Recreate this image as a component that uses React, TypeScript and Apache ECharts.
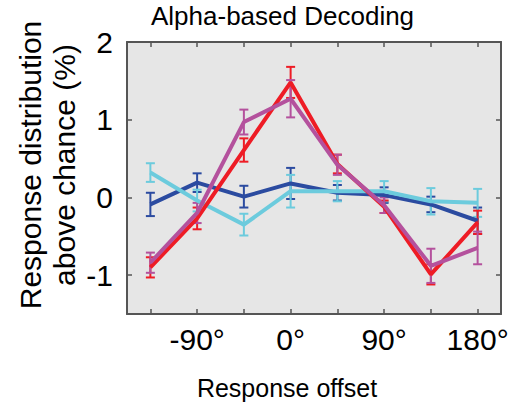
import React, { useEffect, useRef } from "react";
import * as echarts from "echarts";

const categories = ["-135°", "-90°", "-45°", "0°", "45°", "90°", "135°", "180°"];
const shownLabels = ["-90°", "0°", "90°", "180°"];
const yTicks = [-1, 0, 1, 2];

const blueMean = [-0.09, 0.19, 0.01, 0.18, 0.06, 0.03, -0.09, -0.3];
const blueErr = [0.15, 0.12, 0.14, 0.2, 0.1, 0.1, 0.1, 0.17];
const cyanMean = [0.32, -0.04, -0.35, 0.08, 0.08, 0.08, -0.05, -0.07];
const cyanErr = [0.12, 0.14, 0.14, 0.21, 0.13, 0.13, 0.17, 0.18];
const redMean = [-0.9, -0.27, 0.61, 1.48, 0.43, -0.12, -0.99, -0.32];
const redErr = [0.13, 0.14, 0.15, 0.2, 0.12, 0.08, 0.13, 0.15];
const purpleMean = [-0.84, -0.2, 0.97, 1.27, 0.42, -0.1, -0.88, -0.65];
const purpleErr = [0.13, 0.13, 0.16, 0.24, 0.13, 0.1, 0.22, 0.21];

const FONT = "Liberation Sans";

function lineSeries(name: string, data: number[], color: string) {
  return {
    name,
    type: "line",
    data,
    symbol: "none",
    lineStyle: { color, width: 4 },
    xAxisIndex: 0,
    yAxisIndex: 0,
  };
}

function errSeries(name: string, mean: number[], err: number[], color: string) {
  const data = mean.map((m, i) => [i, m - err[i], m + err[i]]);
  return {
    name: name + "-err",
    type: "custom",
    data,
    encode: { x: 0, y: [1, 2] },
    xAxisIndex: 0,
    yAxisIndex: 0,
    renderItem: (params: any, api: any) => {
      const x = api.value(0);
      const lo = api.coord([x, api.value(1)]);
      const hi = api.coord([x, api.value(2)]);
      const w = 4.5;
      const style = { stroke: color, lineWidth: 2 };
      return {
        type: "group",
        children: [
          { type: "line", shape: { x1: lo[0], y1: lo[1], x2: hi[0], y2: hi[1] }, style },
          { type: "line", shape: { x1: lo[0] - w, y1: lo[1], x2: lo[0] + w, y2: lo[1] }, style },
          { type: "line", shape: { x1: hi[0] - w, y1: hi[1], x2: hi[0] + w, y2: hi[1] }, style },
        ],
      };
    },
  };
}

export default function App() {
  const ref = useRef<HTMLDivElement>(null);
  useEffect(() => {
    if (!ref.current) return;
    const chart = echarts.init(ref.current, null, { renderer: "svg" });
    const axisColor = "#555555";
    const base = {
      axisLine: { show: true, onZero: false, lineStyle: { color: axisColor, width: 2 } },
      axisTick: { show: true, inside: true, length: 5, lineStyle: { color: axisColor, width: 1.5 } },
      splitLine: { show: false },
    };
    chart.setOption({
      animation: false,
      backgroundColor: "#ffffff",
      grid: {
        left: 127,
        right: 15,
        top: 42,
        bottom: 96,
        show: true,
        backgroundColor: "#e6e6e6",
        borderWidth: 0,
      },
      graphic: [
        {
          type: "text",
          left: 151,
          top: 3,
          style: { text: "Alpha-based Decoding", font: `26px '${FONT}'`, fill: "#000" },
        },
        {
          type: "text",
          x: 287,
          y: 388,
          style: {
            text: "Response offset",
            font: `25px '${FONT}'`,
            fill: "#000",
            align: "center",
            verticalAlign: "middle",
          },
        },
        {
          type: "text",
          x: 47,
          y: 165,
          rotation: Math.PI / 2,
          style: {
            text: "Response distribution\nabove chance (%)",
            font: `30px '${FONT}'`,
            lineHeight: 34,
            fill: "#000",
            align: "center",
            verticalAlign: "middle",
          },
        },
      ],
      xAxis: [
        {
          ...base,
          type: "category",
          data: categories,
          boundaryGap: true,
          position: "bottom",
          axisTick: { ...base.axisTick, alignWithLabel: true, interval: 0 },
          axisLabel: {
            interval: 0,
            margin: 10,
            color: "#000",
            fontSize: 30,
            fontFamily: FONT,
            formatter: (v: string) => (shownLabels.includes(v) ? v : ""),
          },
        },
        {
          ...base,
          type: "category",
          data: categories,
          boundaryGap: true,
          position: "top",
          axisTick: { ...base.axisTick, alignWithLabel: true, interval: 0 },
          axisLabel: { show: false },
        },
      ],
      yAxis: [
        {
          ...base,
          type: "value",
          min: -1.5,
          max: 2,
          position: "left",
          axisTick: { ...base.axisTick, customValues: yTicks },
          axisLabel: {
            customValues: yTicks,
            margin: 14,
            color: "#000",
            fontSize: 30,
            fontFamily: FONT,
          },
        },
        {
          ...base,
          type: "value",
          min: -1.5,
          max: 2,
          position: "right",
          axisTick: { ...base.axisTick, customValues: yTicks },
          axisLabel: { show: false },
        },
      ],
      series: [
        lineSeries("blue", blueMean, "#2b4ba0"),
        errSeries("blue", blueMean, blueErr, "#2b4ba0"),
        lineSeries("cyan", cyanMean, "#6ccbdd"),
        errSeries("cyan", cyanMean, cyanErr, "#6ccbdd"),
        lineSeries("red", redMean, "#ee1c25"),
        errSeries("red", redMean, redErr, "#ee1c25"),
        lineSeries("purple", purpleMean, "#b4519d"),
        errSeries("purple", purpleMean, purpleErr, "#b4519d"),
      ],
    });
    return () => chart.dispose();
  }, []);
  return <div ref={ref} style={{ width: 516, height: 410, position: "absolute", left: 0, top: 0 }} />;
}
